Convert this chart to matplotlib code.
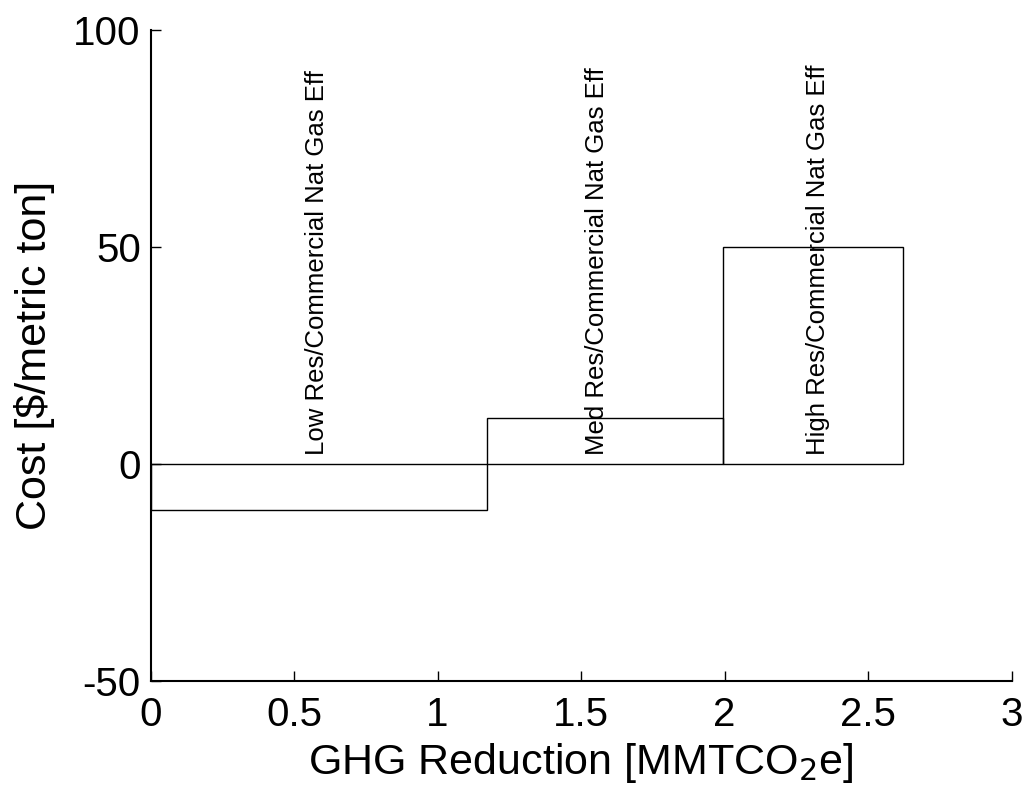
import matplotlib
matplotlib.use("Agg")
import matplotlib.pyplot as plt

# Abatement cost curve: bar widths are GHG reductions, heights are costs
measures = [
    "Low Res/Commercial Nat Gas Eff",
    "Med Res/Commercial Nat Gas Eff",
    "High Res/Commercial Nat Gas Eff",
]
reduction = [1.172, 0.822, 0.628]   # MMTCO2e
cost = [-10.5, 10.7, 50.0]          # $/metric ton
label_x = [0.58, 1.555, 2.325]      # where the rotated labels sit

plt.rcParams["font.family"] = ["Liberation Sans", "DejaVu Sans"]

fig = plt.figure(figsize=(10.27, 7.92), dpi=100)
ax = fig.add_axes([0.1466, 0.140, 0.8385, 0.822])

starts = [sum(reduction[:i]) for i in range(len(reduction))]
ax.bar(starts, cost, width=reduction, align="edge", fill=False,
       edgecolor="black", linewidth=1.0)

for x, name in zip(label_x, measures):
    ax.text(x, 2.0, name, rotation=90, ha="center", va="bottom", fontsize=18.5)

ax.set_xlim(0, 3)
ax.set_ylim(-50, 100)
ax.set_xticks([0, 0.5, 1, 1.5, 2, 2.5, 3])
ax.set_xticklabels(["0", "0.5", "1", "1.5", "2", "2.5", "3"])
ax.set_yticks([-50, 0, 50, 100])
ax.set_yticklabels(["-50", "0", "50", "100"])

ax.spines[["top", "right"]].set_visible(False)
ax.spines[["left", "bottom"]].set_linewidth(1.5)
ax.tick_params(direction="in", length=7, width=1, labelsize=29)
ax.tick_params(axis="x", pad=10.5)
ax.tick_params(axis="y", pad=7)

ax.set_xlabel("GHG Reduction [MMTCO$_2$e]", fontsize=31, labelpad=5)
ax.set_ylabel("Cost [$/metric ton]", fontsize=31, labelpad=13)

fig.savefig("out.png", dpi=100)
